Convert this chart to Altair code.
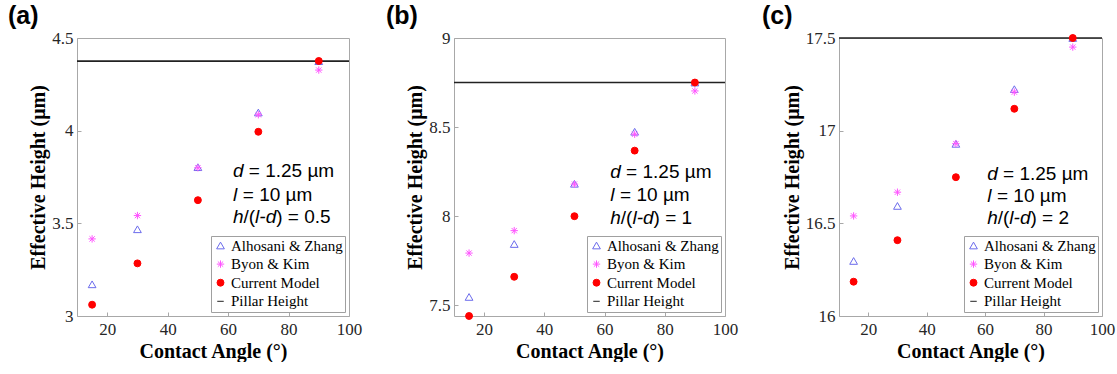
import altair as alt
import pandas as pd

# ---------------- data ----------------
angles = [15, 30, 50, 70, 90]
series_names = ["Alhosani & Zhang", "Byon & Kim", "Current Model", "Pillar Height"]

alhosani_a = [3.171, 3.468, 3.803, 4.098, 4.375]
byon_a = [3.416, 3.542, 3.800, 4.086, 4.327]
current_a = [3.061, 3.284, 3.625, 3.994, 4.376]
pillar_a = 4.375

alhosani_b = [7.547, 7.844, 8.182, 8.474, 8.75]
byon_b = [7.793, 7.919, 8.180, 8.460, 8.703]
current_b = [7.440, 7.660, 8.000, 8.368, 8.75]
pillar_b = 8.75

alhosani_c = [16.297, 16.594, 16.929, 17.224, 17.5]
byon_c = [16.540, 16.668, 16.930, 17.208, 17.451]
current_c = [16.185, 16.409, 16.749, 17.118, 17.5]
pillar_c = 17.5

x_ticks = [20, 40, 60, 80, 100]
yticks_a = [3, 3.5, 4, 4.5]
yticks_b = [7.5, 8, 8.5, 9]
yticks_c = [16, 16.5, 17, 17.5]
ydom_a = [3, 4.5]
ydom_b = [7.44, 9]
ydom_c = [16, 17.5]

ratio_a, ratio_b, ratio_c = "0.5", "1", "2"
text_x = [61.6, 61.9, 60.7]
text_y_a = [3.780, 3.654, 3.533]
text_y_b = [8.248, 8.117, 7.991]
text_y_c = [16.767, 16.648, 16.528]

ASTERISK = "M-1,0L1,0M0,-1L0,1M-0.72,-0.72L0.72,0.72M-0.72,0.72L0.72,-0.72"
colors = ["#6b6bec", "#ff55ff", "#ff0000", "#222222"]
fills = ["transparent", "transparent", "#ff0000", "transparent"]
shapes = ["triangle-up", ASTERISK, "circle", "stroke"]
sizes = [60, 42, 46, 290]
widths = [1, 1, 1, 1.6]

FS = 19


def panel(label, alh, byon, cur, pillar, ydom, yticks, ratio, tx, tys, width, title_dx):
    rows = []
    for name, vals in zip(series_names[:3], [alh, byon, cur]):
        for a, v in zip(angles, vals):
            rows.append({"angle": a, "value": v, "series": name})
    pts = pd.DataFrame(rows)

    X = alt.X("angle:Q", scale=alt.Scale(domain=[10, 100], nice=False, zero=False),
              axis=alt.Axis(values=x_ticks, labelFlush=False), title="Contact Angle (°)")
    Y = alt.Y("value:Q", scale=alt.Scale(domain=ydom, nice=False, zero=False),
              axis=alt.Axis(values=yticks, format="~g", labelFlush=False),
              title="Effective Height (μm)")

    leg = alt.Legend(title=None)
    points = alt.Chart(pts).mark_point(opacity=1).encode(
        x=X, y=Y,
        shape=alt.Shape("series:N", scale=alt.Scale(domain=series_names, range=shapes), legend=leg),
        stroke=alt.Stroke("series:N", scale=alt.Scale(domain=series_names, range=colors), legend=leg),
        fill=alt.Fill("series:N", scale=alt.Scale(domain=series_names, range=fills), legend=leg),
        size=alt.Size("series:N", scale=alt.Scale(domain=series_names, range=sizes), legend=leg),
        strokeWidth=alt.StrokeWidth("series:N", scale=alt.Scale(domain=series_names, range=widths), legend=leg),
    )

    rule = alt.Chart(pd.DataFrame({"value": [pillar]})).mark_rule(
        color="#222222", strokeWidth=1.6).encode(y=Y)

    # annotation segments: (text, style, horizontal offset in em)
    lines = [
        [("d", "italic", 0.0), ("= 1.25 µm", "normal", 0.556 + 0.278)],
        [("l", "italic", 0.0), ("= 10 µm", "normal", 0.24 + 0.278)],
        [("h", "italic", 0.0), ("/(", "normal", 0.556),
         ("l-d", "italic", 0.556 + 0.611), (") = " + ratio, "normal", 0.556 + 0.611 + 1.111)],
    ]
    layers = [rule, points]
    for ty, line in zip(tys, lines):
        for txt, style, off in line:
            df = pd.DataFrame({"angle": [tx], "value": [ty], "txt": [txt]})
            layers.append(alt.Chart(df).mark_text(
                align="left", baseline="middle", font="Liberation Sans", fontSize=FS,
                fontStyle=style, color="black", dx=off * FS).encode(x=X, y=Y, text="txt:N"))

    return alt.layer(*layers).properties(
        width=width, height=278,
        title=alt.TitleParams(label, anchor="start", frame="group", dx=title_dx, offset=0,
                              font="Liberation Sans", fontSize=25,
                              fontWeight="bold", color="black"))


pa = panel("(a)", alhosani_a, byon_a, current_a, pillar_a, ydom_a, yticks_a, ratio_a,
           text_x[0], text_y_a, 272, -69)
pb = panel("(b)", alhosani_b, byon_b, current_b, pillar_b, ydom_b, yticks_b, ratio_b,
           text_x[1], text_y_b, 271, -68)
pc = panel("(c)", alhosani_c, byon_c, current_c, pillar_c, ydom_c, yticks_c, ratio_c,
           text_x[2], text_y_c, 263, -77)

chart = alt.hconcat(pa, pb, pc, spacing=22).resolve_scale(
    shape="independent", stroke="independent", fill="independent",
    size="independent", strokeWidth="independent", x="independent", y="independent"
).resolve_legend(
    shape="independent", stroke="independent", fill="independent",
    size="independent", strokeWidth="independent"
).properties(
    padding={"left": 7, "top": 3, "right": 0, "bottom": 0}
).configure_view(
    stroke="#a8a8a8", strokeWidth=1
).configure_axis(
    labelFont="Liberation Serif", labelFontSize=17, labelColor="#262626",
    titleFont="Liberation Serif", titleFontSize=20, titleFontWeight="bold", titleColor="black",
    grid=False, domain=False, tickColor="#a8a8a8", tickSize=4, offset=-4, labelPadding=4,
).configure_axisX(
    titlePadding=4, labelPadding=5
).configure_axisY(
    titlePadding=3
).configure_legend(
    orient="bottom-right", offset=4, padding=2, rowPadding=2.6, strokeColor="#a0a0a0",
    fillColor="white", labelFont="Liberation Serif", labelFontSize=15, labelColor="black",
    labelOffset=3, cornerRadius=0, symbolOpacity=1
)

chart.save("out.html", embed_options={"renderer": "svg", "actions": False})
